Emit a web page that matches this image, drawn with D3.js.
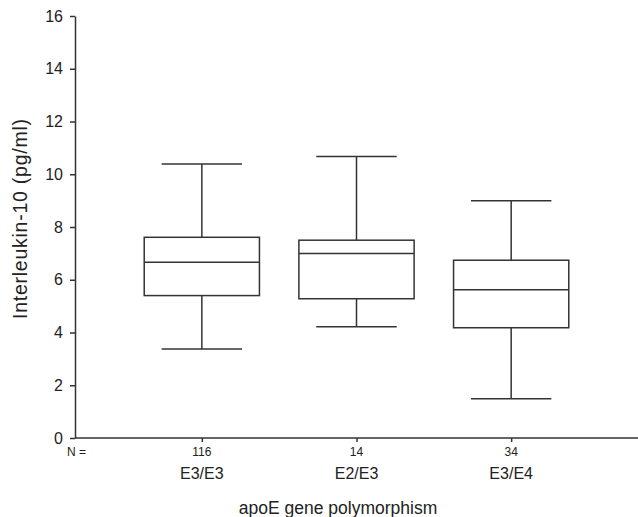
<!DOCTYPE html>
<html>
<head>
<meta charset="utf-8">
<script src="https://cdn.jsdelivr.net/npm/d3@7"></script>
<style>
  body { margin: 0; background: #fff; }
  svg { font-family: "Liberation Sans", Arial, sans-serif; }
  .axis path, .axis line { stroke: #333; stroke-width: 1.5; }
</style>
</head>
<body>
<div id="chart"></div>
<script>
var categories = ['E3/E3', 'E2/E3', 'E3/E4'];
var counts = [116, 14, 34];
var whiskerLow = [3.37, 4.22, 1.49];
var q1 = [5.40, 5.28, 4.18];
var median = [6.66, 7.0, 5.62];
var q3 = [7.61, 7.50, 6.74];
var whiskerHigh = [10.39, 10.67, 9.0];
var yTicks = [0, 2, 4, 6, 8, 10, 12, 14, 16];

var width = 638, height = 517;
var marginLeft = 75, plotTop = 16, plotBottom = 438;

var boxes = categories.map(function(c, i){
    return {cat: c, n: counts[i], lo: whiskerLow[i], q1: q1[i], med: median[i], q3: q3[i], hi: whiskerHigh[i]};
});

var svg = d3.select('#chart').append('svg')
    .attr('width', width)
    .attr('height', height);

var x = d3.scalePoint().domain(categories).range([marginLeft, width]).padding(0.82);
var y = d3.scaleLinear().domain([0, 16]).range([plotBottom, plotTop]);

var step = x.step();
var boxWidth = step * 0.745;
var capWidth = step * 0.52;

// y axis
svg.append('g')
    .attr('class', 'axis')
    .attr('transform', 'translate(' + marginLeft + ',0)')
    .call(d3.axisLeft(y).tickValues(yTicks).tickSize(5).tickSizeOuter(0).tickPadding(7))
    .call(function(g){
        g.attr('font-family', null).attr('font-size', null);
        g.selectAll('text').style('font-size', '16px').attr('fill', '#222');
    });

// x axis
svg.append('g')
    .attr('class', 'axis')
    .attr('transform', 'translate(0,' + plotBottom + ')')
    .call(d3.axisBottom(x).tickSize(4).tickSizeOuter(0).tickFormat(''))
    .call(function(g){ g.select('.domain').attr('d', 'M' + marginLeft + ',0H' + width); });

// N = labels
svg.append('text')
    .attr('x', 67).attr('y', 456)
    .attr('font-size', 12).attr('fill', '#222')
    .text('N =');

svg.selectAll('.nlabel')
    .data(boxes)
    .enter()
    .append('text')
    .attr('class', 'nlabel')
    .attr('x', function(d){ return x(d.cat); })
    .attr('y', 456)
    .attr('text-anchor', 'middle')
    .attr('font-size', 12).attr('fill', '#222')
    .text(function(d){ return d.n; });

svg.selectAll('.catlabel')
    .data(boxes)
    .enter()
    .append('text')
    .attr('class', 'catlabel')
    .attr('x', function(d){ return x(d.cat); })
    .attr('y', 479)
    .attr('text-anchor', 'middle')
    .attr('font-size', 16).attr('fill', '#222')
    .text(function(d){ return d.cat; });

// axis titles
svg.append('text')
    .attr('x', 338).attr('y', 514)
    .attr('text-anchor', 'middle')
    .attr('font-size', 17.5).attr('fill', '#222')
    .text('apoE gene polymorphism');

svg.append('text')
    .attr('transform', 'translate(27,219) rotate(-90)')
    .attr('text-anchor', 'middle')
    .attr('font-size', 19.5).attr('fill', '#222')
    .attr('textLength', 200).attr('lengthAdjust', 'spacing')
    .text('Interleukin-10 (pg/ml)');

// boxes
var g = svg.selectAll('.box')
    .data(boxes)
    .enter()
    .append('g')
    .attr('class', 'box')
    .attr('stroke', '#333')
    .attr('stroke-width', 1.5)
    .attr('fill', 'none');

// whisker stems
g.append('line')
    .attr('x1', function(d){ return x(d.cat); })
    .attr('x2', function(d){ return x(d.cat); })
    .attr('y1', function(d){ return y(d.hi); })
    .attr('y2', function(d){ return y(d.q3); });
g.append('line')
    .attr('x1', function(d){ return x(d.cat); })
    .attr('x2', function(d){ return x(d.cat); })
    .attr('y1', function(d){ return y(d.q1); })
    .attr('y2', function(d){ return y(d.lo); });

// caps
['hi', 'lo'].forEach(function(k){
    g.append('line')
        .attr('x1', function(d){ return x(d.cat) - capWidth / 2; })
        .attr('x2', function(d){ return x(d.cat) + capWidth / 2; })
        .attr('y1', function(d){ return y(d[k]); })
        .attr('y2', function(d){ return y(d[k]); });
});

// box
g.append('rect')
    .attr('x', function(d){ return x(d.cat) - boxWidth / 2; })
    .attr('y', function(d){ return y(d.q3); })
    .attr('width', boxWidth)
    .attr('height', function(d){ return y(d.q1) - y(d.q3); });

// median
g.append('line')
    .attr('x1', function(d){ return x(d.cat) - boxWidth / 2; })
    .attr('x2', function(d){ return x(d.cat) + boxWidth / 2; })
    .attr('y1', function(d){ return y(d.med); })
    .attr('y2', function(d){ return y(d.med); });
</script>
</body>
</html>
